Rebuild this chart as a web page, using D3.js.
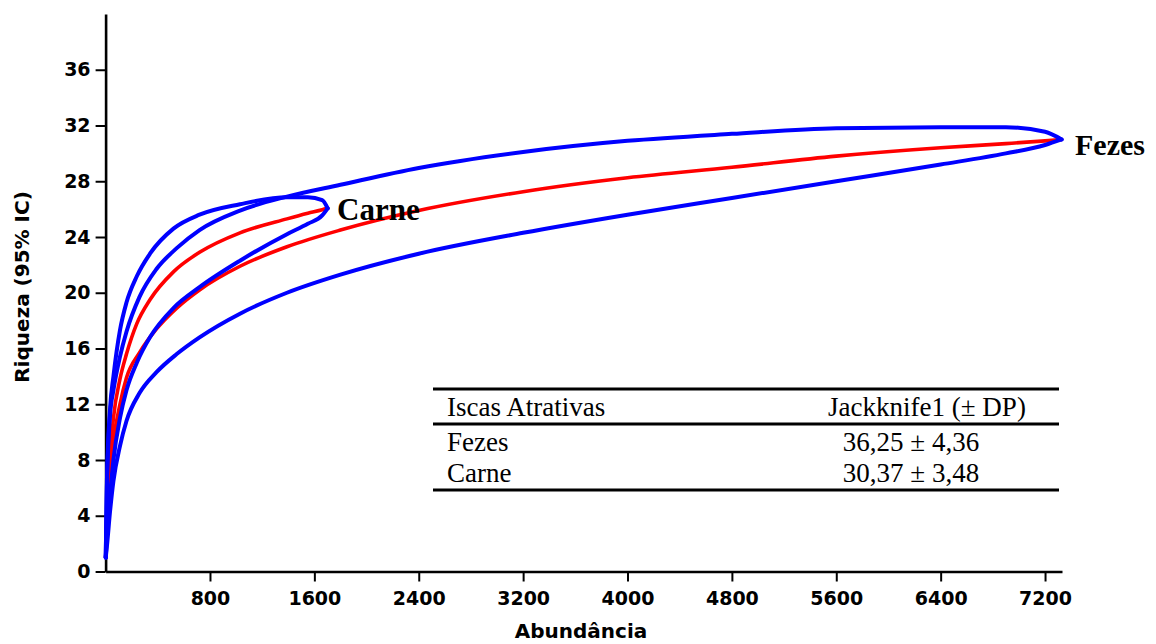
<!DOCTYPE html>
<html>
<head>
<meta charset="utf-8">
<script src="https://cdn.jsdelivr.net/npm/d3@7"></script>
<style>
  html, body { margin: 0; padding: 0; background: #fff; }
  svg { display: block; }
</style>
</head>
<body>
<svg id="chart" width="1156" height="644"></svg>
<script>
// Rarefaction curves (observed richness vs. abundance) with 95% CI, per bait type
const fezesN     = [1, 10, 35, 60, 110, 160, 260, 390, 545, 720, 1030, 1390, 1800, 2400, 3200, 4000, 4800, 5600, 6400, 6900, 7200, 7327];
const fezesMean  = [1, 4.2, 6.8, 9.3, 12.0, 13.9, 15.7, 17.4, 18.9, 20.2, 21.9, 23.3, 24.5, 25.9, 27.25, 28.25, 29.0, 29.8, 30.4, 30.7, 30.9, 31.0];
const fezesLower = [1, 1.8, 4.4, 6.5, 9.0, 10.8, 12.8, 14.3, 15.6, 16.8, 18.5, 20.0, 21.3, 22.8, 24.3, 25.6, 26.8, 28.0, 29.2, 30.0, 30.6, 31.0];
const fezesUpper = [1, 6.0, 11.3, 13.0, 15.4, 17.2, 19.7, 21.7, 23.2, 24.5, 25.9, 26.9, 27.75, 28.95, 30.1, 30.9, 31.4, 31.8, 31.87, 31.87, 31.55, 31.0];

const carneN     = [1, 10, 35, 60, 110, 160, 240, 340, 520, 720, 1030, 1390, 1550, 1660, 1702];
const carneMean  = [1, 4.5, 8.2, 11.0, 13.8, 15.6, 17.8, 19.5, 21.5, 22.9, 24.3, 25.3, 25.7, 25.95, 26.06];
const carneLower = [1, 2.5, 5.5, 8.0, 11.0, 13.0, 15.0, 16.8, 18.9, 20.4, 22.3, 24.2, 24.95, 25.55, 26.06];
const carneUpper = [1, 6.5, 11.8, 14.0, 17.3, 19.3, 21.2, 22.8, 24.6, 25.6, 26.35, 26.85, 26.85, 26.65, 26.06];

const xTicks = [800, 1600, 2400, 3200, 4000, 4800, 5600, 6400, 7200];
const yTicks = [0, 4, 8, 12, 16, 20, 24, 28, 32, 36];

const tableHeader = ["Iscas Atrativas", "Jackknife1 (\u00b1 DP)"];
const tableBaits  = ["Fezes", "Carne"];
const tableValues = ["36,25 \u00b1 4,36", "30,37 \u00b1 3,48"];

const svg = d3.select("#chart");

const x = d3.scaleLinear().domain([0, 7330]).range([105.6, 1062]);
const y = d3.scaleLinear().domain([0, 40]).range([571.5, 14]);

// axes
const axisFont = "'DejaVu Sans', sans-serif";

const yAxis = svg.append("g")
  .attr("transform", `translate(${x(0)},0)`)
  .call(d3.axisLeft(y).tickValues(yTicks).tickFormat(d3.format("d"))
    .tickSize(10).tickPadding(5).tickSizeOuter(0));
const xAxis = svg.append("g")
  .attr("transform", `translate(0,${y(0)})`)
  .call(d3.axisBottom(x).tickValues(xTicks).tickFormat(d3.format("d"))
    .tickSize(10).tickPadding(10).tickSizeOuter(0));

[yAxis, xAxis].forEach(g => {
  g.select(".domain").attr("stroke", "#000").attr("stroke-width", 2.6);
  g.selectAll(".tick line").attr("stroke", "#000").attr("stroke-width", 2);
  g.selectAll(".tick text")
    .attr("fill", "#000")
    .style("font-family", axisFont)
    .style("font-weight", "bold")
    .style("font-size", "19px");
});

svg.append("text")
  .attr("x", 581)
  .attr("y", 638)
  .attr("text-anchor", "middle")
  .style("font-family", axisFont)
  .style("font-weight", "bold")
  .style("font-size", "20px")
  .text("Abundância");

svg.append("text")
  .attr("transform", "translate(29,287) rotate(-90)")
  .attr("text-anchor", "middle")
  .style("font-family", axisFont)
  .style("font-weight", "bold")
  .style("font-size", "20px")
  .text("Riqueza (95% IC)");

// curves
const line = d3.line()
  .x(d => x(d[0]))
  .y(d => y(d[1]))
  .curve(d3.curveMonotoneX);

function drawCurve(ns, vals, color, width) {
  svg.append("path")
    .datum(ns.map((n, i) => [n, vals[i]]))
    .attr("d", line)
    .attr("fill", "none")
    .attr("stroke", color)
    .attr("stroke-width", width)
    .attr("stroke-linejoin", "round")
    .attr("stroke-linecap", "round");
}

drawCurve(fezesN, fezesMean, "#ff0000", 3.6);
drawCurve(carneN, carneMean, "#ff0000", 3.6);
drawCurve(fezesN, fezesLower, "#0000ff", 4);
drawCurve(fezesN, fezesUpper, "#0000ff", 4);
drawCurve(carneN, carneLower, "#0000ff", 4);
drawCurve(carneN, carneUpper, "#0000ff", 4);

// curve labels
const serif = "'Liberation Serif', 'Times New Roman', serif";
svg.append("text")
  .attr("x", 337).attr("y", 220)
  .style("font-family", serif).style("font-weight", "bold").style("font-size", "31px")
  .text("Carne");
svg.append("text")
  .attr("x", 1075).attr("y", 155)
  .style("font-family", serif).style("font-weight", "bold").style("font-size", "30px")
  .text("Fezes");

// estimator table
const tbl = svg.append("g");
const tLeft = 433, tRight = 1059;
[[389, 3.2], [424, 3], [490, 3.2]].forEach(([yy, w]) => {
  tbl.append("line")
    .attr("x1", tLeft).attr("x2", tRight)
    .attr("y1", yy).attr("y2", yy)
    .attr("stroke", "#000").attr("stroke-width", w);
});
const tStyle = s => s.style("font-family", serif).style("font-size", "27px").attr("fill", "#000");
tbl.append("text").attr("x", 447).attr("y", 416).text(tableHeader[0]).call(tStyle);
tbl.append("text").attr("x", 927).attr("y", 416).attr("text-anchor", "middle").text(tableHeader[1]).call(tStyle);
const rowY = [451, 482];
tableBaits.forEach((b, i) => {
  tbl.append("text").attr("x", 447).attr("y", rowY[i]).text(b).call(tStyle);
  tbl.append("text").attr("x", 911).attr("y", rowY[i]).attr("text-anchor", "middle").text(tableValues[i]).call(tStyle);
});
</script>
</body>
</html>
